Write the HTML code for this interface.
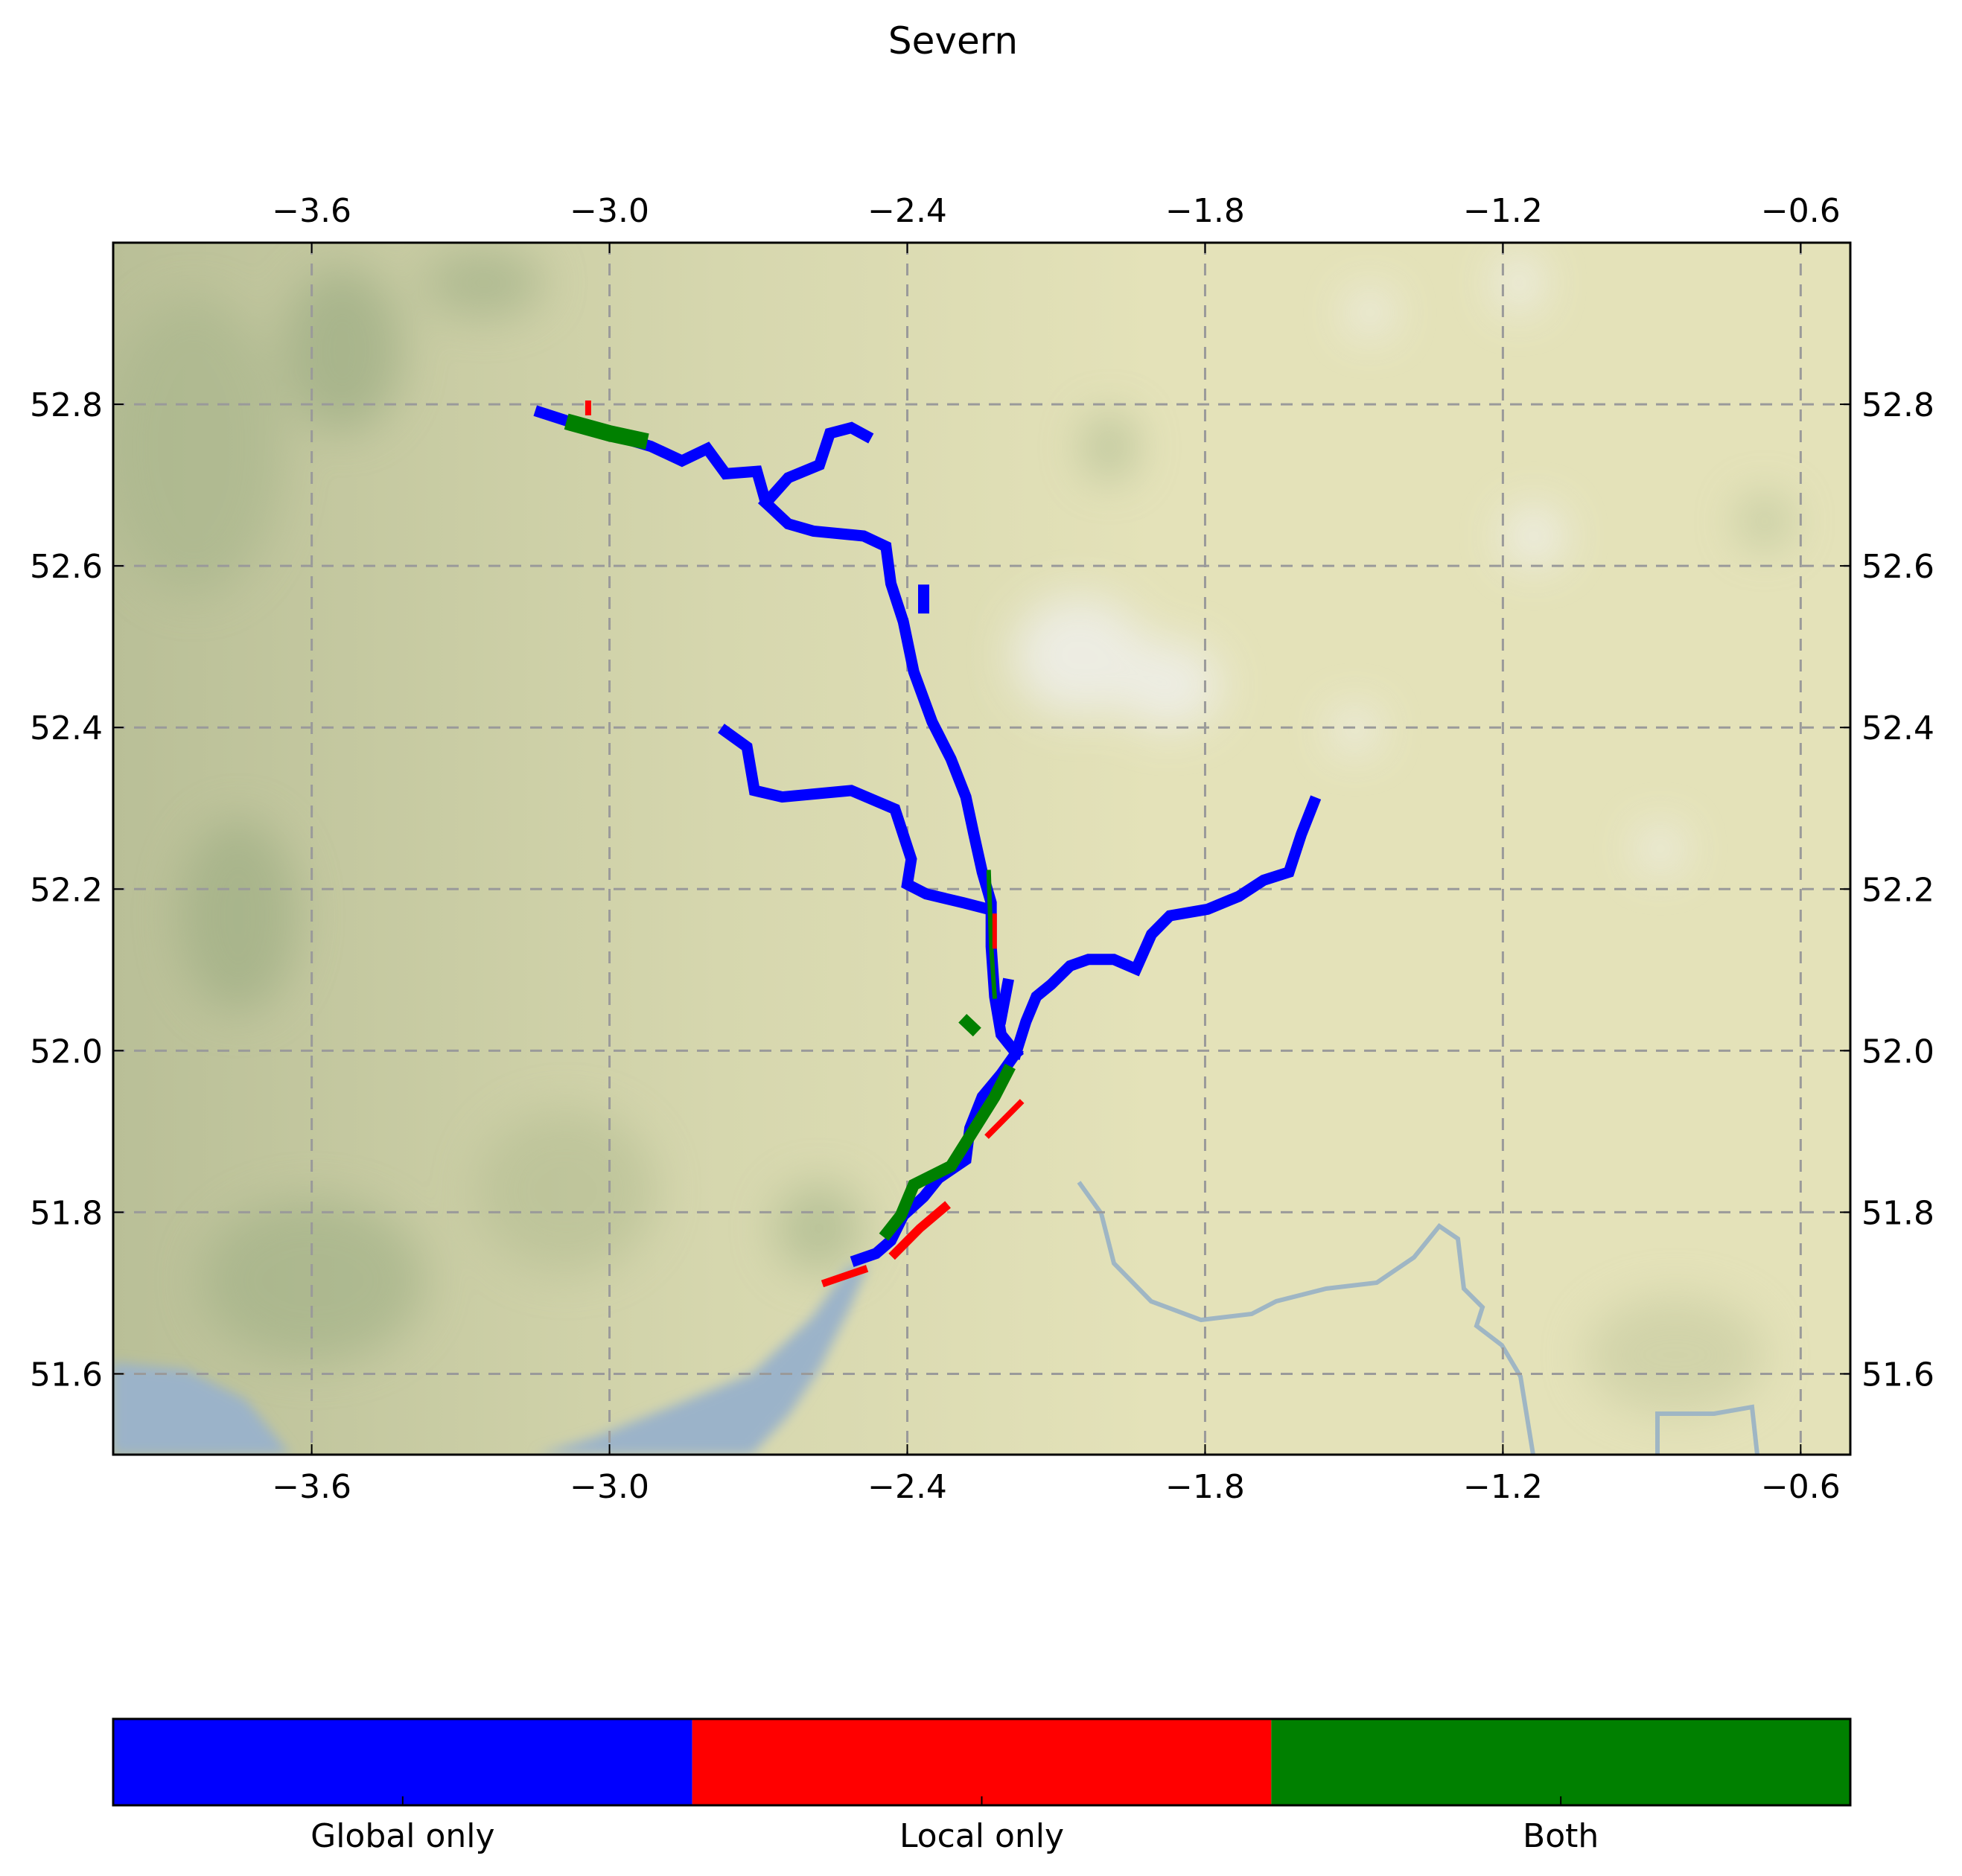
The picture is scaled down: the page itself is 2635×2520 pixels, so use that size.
<!DOCTYPE html>
<html><head><meta charset="utf-8"><style>
body{margin:0;background:#fff;}
svg{display:block;font-family:"DejaVu Sans","Liberation Sans",sans-serif;}
</style></head><body>
<svg id="chart" width="2635" height="2520" viewBox="0 0 2635 2520" xmlns="http://www.w3.org/2000/svg">
<defs>
<filter id="blur" x="-50%" y="-50%" width="200%" height="200%"><feGaussianBlur stdDeviation="30"/></filter>
<filter id="blur2" x="-50%" y="-50%" width="200%" height="200%"><feGaussianBlur stdDeviation="8"/></filter>
<linearGradient id="westshade" x1="0" y1="0" x2="1" y2="0">
<stop offset="0" stop-color="#b9bf97"/><stop offset="0.35" stop-color="#d6d7ae"/><stop offset="0.6" stop-color="#e4e2b9"/><stop offset="1" stop-color="#e4e2b9"/>
</linearGradient>
<clipPath id="plotclip"><rect x="152" y="326" width="2333" height="1628"/></clipPath>
</defs>
<text x="1280" y="72" font-size="50" text-anchor="middle">Severn</text>
<g id="map" clip-path="url(#plotclip)">
<rect x="152" y="326" width="2333" height="1628" fill="url(#westshade)"/>
<g filter="url(#blur)" opacity="0.55">
<ellipse cx="260" cy="600" rx="120" ry="200" fill="#a6b48a"/>
<ellipse cx="460" cy="470" rx="80" ry="110" fill="#93a67d"/>
<ellipse cx="650" cy="380" rx="80" ry="45" fill="#9aab82"/>
<ellipse cx="320" cy="1230" rx="80" ry="130" fill="#97a97f"/>
<ellipse cx="420" cy="1720" rx="150" ry="110" fill="#9cad83"/>
<ellipse cx="760" cy="1600" rx="120" ry="110" fill="#b2bc91"/>
<ellipse cx="1100" cy="1650" rx="60" ry="60" fill="#9fb085"/>
<ellipse cx="1490" cy="600" rx="35" ry="45" fill="#9fb085"/>
<ellipse cx="2370" cy="700" rx="35" ry="35" fill="#a8b78c"/>
<ellipse cx="2250" cy="1820" rx="120" ry="80" fill="#c2c79d"/>
</g>
<g filter="url(#blur)" opacity="0.8">
<ellipse cx="1450" cy="880" rx="90" ry="80" fill="#f0f0ee"/>
<ellipse cx="1570" cy="920" rx="70" ry="60" fill="#f0f0ee"/>
<ellipse cx="2060" cy="720" rx="40" ry="40" fill="#f2f2f2"/>
<ellipse cx="1840" cy="420" rx="30" ry="30" fill="#f2f2f2"/>
<ellipse cx="2040" cy="380" rx="30" ry="40" fill="#f2f2f2"/>
<ellipse cx="1820" cy="980" rx="30" ry="30" fill="#f2f2f2"/>
<ellipse cx="2230" cy="1140" rx="30" ry="30" fill="#f2f2f2"/>
</g>
<path filter="url(#blur2)" d="M150 1830 L250 1840 L330 1880 L390 1954 L150 1954 Z M720 1954 L800 1930 L900 1890 L1010 1845 L1090 1770 L1140 1700 L1165 1700 L1140 1760 L1100 1840 L1060 1900 L1010 1954 Z" fill="#9bb3c9"/>
<polyline points="1449,1588 1479,1630 1496,1697 1546,1748 1613,1773 1681,1765 1714,1748 1781,1731 1849,1723 1899,1689 1933,1647 1958,1664 1966,1731 1991,1756 1983,1781 2017,1807 2042,1849 2059,1954" fill="none" stroke="#9fb6c4" stroke-width="6"/>
<polyline points="2226,1954 2226,1899 2302,1899 2353,1890 2360,1954" fill="none" stroke="#9fb6c4" stroke-width="6"/>
</g>
<g id="grid" stroke="#9a9a9a" stroke-width="3" stroke-dasharray="16,12" fill="none"></g>
<g id="rivers" clip-path="url(#plotclip)"></g>
<rect x="152" y="326" width="2333" height="1628" fill="none" stroke="#000" stroke-width="3"/>
<g id="ticks"></g>
<g id="cbar"></g>
</svg>
<script>
const lonTicks=[-3.6,-3.0,-2.4,-1.8,-1.2,-0.6];
const lonLabels=["\u22123.6","\u22123.0","\u22122.4","\u22121.8","\u22121.2","\u22120.6"];
const latTicks=[52.8,52.6,52.4,52.2,52.0,51.8,51.6];
const latLabels=["52.8","52.6","52.4","52.2","52.0","51.8","51.6"];
const categories=["Global only","Local only","Both"];
const catColors=["#0000ff","#ff0000","#008000"];
const severnMain=[[-3.139,52.790],[-3.043,52.771],[-2.917,52.748],[-2.854,52.730],[-2.803,52.745],[-2.766,52.714],[-2.703,52.717],[-2.685,52.678],[-2.640,52.652],[-2.589,52.643],[-2.488,52.637],[-2.443,52.624],[-2.433,52.578],[-2.408,52.531],[-2.387,52.469],[-2.350,52.407],[-2.312,52.361],[-2.282,52.314],[-2.266,52.268],[-2.249,52.221],[-2.231,52.183],[-2.231,52.129],[-2.224,52.067],[-2.211,52.020],[-2.181,51.997]];
const severnLower=[[-2.181,51.997],[-2.211,51.971],[-2.249,51.943],[-2.274,51.904],[-2.282,51.865],[-2.337,51.842],[-2.367,51.819],[-2.408,51.796],[-2.433,51.765],[-2.463,51.749],[-2.501,51.741]];
const vyrnwyBranch=[[-2.685,52.678],[-2.640,52.709],[-2.577,52.725],[-2.556,52.764],[-2.513,52.771],[-2.483,52.761]];
const teme=[[-2.766,52.395],[-2.723,52.376],[-2.708,52.322],[-2.652,52.314],[-2.513,52.322],[-2.425,52.299],[-2.392,52.237],[-2.400,52.206],[-2.362,52.194],[-2.287,52.183],[-2.236,52.175]];
const avon=[[-1.581,52.307],[-1.606,52.268],[-1.631,52.221],[-1.682,52.211],[-1.732,52.191],[-1.795,52.175],[-1.871,52.167],[-1.908,52.144],[-1.939,52.101],[-1.984,52.113],[-2.035,52.113],[-2.072,52.105],[-2.110,52.082],[-2.140,52.067],[-2.161,52.036],[-2.181,51.997]];
const sideChannel=[[-2.198,52.082],[-2.211,52.040]];
const isolated=[[-2.367,52.570],[-2.367,52.548]];
const bothUpper=[[-3.071,52.776],[-3.000,52.764],[-2.940,52.756]];
const bothEstuary=[[-2.440,51.775],[-2.413,51.796],[-2.387,51.834],[-2.312,51.857],[-2.224,51.943],[-2.198,51.974]];
const bothChannel=[[-2.236,52.221],[-2.231,52.129],[-2.224,52.067]];
const bothPond=[[-2.280,52.035],[-2.268,52.028]];
const localEstuary=[[-2.564,51.713],[-2.488,51.729]];
const localEstuary2=[[-2.425,51.749],[-2.375,51.780],[-2.325,51.806]];
const localMid=[[-2.236,51.896],[-2.173,51.935]];
const localChannel=[[-2.224,52.167],[-2.224,52.129]];
const localTop=[[-3.043,52.801],[-3.043,52.790]];

const X0=152,X1=2485,Y0=326,Y1=1954,LON0=-4.0,LON1=-0.5,LAT0=51.5,LAT1=53.0;
const xs=v=>X0+(v-LON0)/(LON1-LON0)*(X1-X0);
const ys=v=>Y1-(v-LAT0)/(LAT1-LAT0)*(Y1-Y0);
const NS="http://www.w3.org/2000/svg";
function mk(tag,parent){const e=document.createElementNS(NS,tag);parent.appendChild(e);return e;}
const grid=document.getElementById('grid'),ticks=document.getElementById('ticks');
const FS='44';
lonTicks.forEach((t,i)=>{
  const x=xs(t);
  const g=mk('line',grid);g.setAttribute('x1',x);g.setAttribute('x2',x);g.setAttribute('y1',Y0);g.setAttribute('y2',Y1);
  
  
  [[Y0,Y0+14],[Y1,Y1-14]].forEach(p=>{const l=mk('line',ticks);l.setAttribute('x1',x);l.setAttribute('x2',x);l.setAttribute('y1',p[0]);l.setAttribute('y2',p[1]);l.setAttribute('stroke','#000');l.setAttribute('stroke-width','2');
    
    });
  [[298],[2012]].forEach(p=>{const tx=mk('text',ticks);tx.setAttribute('x',x);tx.setAttribute('y',p[0]);tx.setAttribute('font-size',FS);tx.setAttribute('text-anchor','middle');tx.textContent=lonLabels[i];
    
    });
});
latTicks.forEach((t,i)=>{
  const y=ys(t);
  const g=mk('line',grid);g.setAttribute('x1',X0);g.setAttribute('x2',X1);g.setAttribute('y1',y);g.setAttribute('y2',y);
  
  
  [[X0,X0+14],[X1,X1-14]].forEach(p=>{const l=mk('line',ticks);l.setAttribute('y1',y);l.setAttribute('y2',y);l.setAttribute('x1',p[0]);l.setAttribute('x2',p[1]);l.setAttribute('stroke','#000');l.setAttribute('stroke-width','2');
    
    });
  const a=mk('text',ticks);a.setAttribute('x',138);a.setAttribute('y',y+16);a.setAttribute('font-size',FS);a.setAttribute('text-anchor','end');a.textContent=latLabels[i];
  
  
  const b=mk('text',ticks);b.setAttribute('x',2500);b.setAttribute('y',y+16);b.setAttribute('font-size',FS);b.textContent=latLabels[i];
  
  
});
const rivers=document.getElementById('rivers');
function path(pts,color,w,name){
  const p=mk('polyline',rivers);
  p.setAttribute('points',pts.map(q=>xs(q[0])+','+ys(q[1])).join(' '));
  p.setAttribute('fill','none');p.setAttribute('stroke',color);p.setAttribute('stroke-width',w);
  p.setAttribute('stroke-linejoin','miter');p.setAttribute('stroke-linecap','square');
  
  
}
[[severnMain,'severn-main'],[severnLower,'severn-lower'],[vyrnwyBranch,'vyrnwy-branch'],[teme,'teme-river'],[avon,'avon-river'],[sideChannel,'side-channel'],[isolated,'isolated-patch']].forEach(s=>path(s[0],catColors[0],15,s[1]));
path(bothUpper,catColors[2],22,'both-upper');
path(bothEstuary,catColors[2],16,'both-estuary');
path(bothChannel,catColors[2],6,'both-channel');
path(bothPond,catColors[2],16,'both-pond');
path(localEstuary,catColors[1],10,'local-estuary');
path(localEstuary2,catColors[1],12,'local-estuary-2');
path(localMid,catColors[1],8,'local-mid');
path(localChannel,catColors[1],6,'local-channel');
path(localTop,catColors[1],8,'local-top');
const cb=document.getElementById('cbar');
const cw=(X1-X0)/categories.length;
categories.forEach((c,i)=>{
  const r=mk('rect',cb);r.setAttribute('x',X0+i*cw);r.setAttribute('y',2309);r.setAttribute('width',cw);r.setAttribute('height',116);r.setAttribute('fill',catColors[i]);
  
  
  const l=mk('line',cb);l.setAttribute('x1',X0+(i+0.5)*cw);l.setAttribute('x2',X0+(i+0.5)*cw);l.setAttribute('y1',2425);l.setAttribute('y2',2413);l.setAttribute('stroke','#000');l.setAttribute('stroke-width','2');
  
  
  const t=mk('text',cb);t.setAttribute('x',X0+(i+0.5)*cw);t.setAttribute('y',2481);t.setAttribute('font-size',FS);t.setAttribute('text-anchor','middle');t.textContent=c;
  
  
});
const fr=mk('rect',cb);fr.setAttribute('x',X0);fr.setAttribute('y',2309);fr.setAttribute('width',X1-X0);fr.setAttribute('height',116);fr.setAttribute('fill','none');fr.setAttribute('stroke','#000');fr.setAttribute('stroke-width','3');


</script>
</body></html>
